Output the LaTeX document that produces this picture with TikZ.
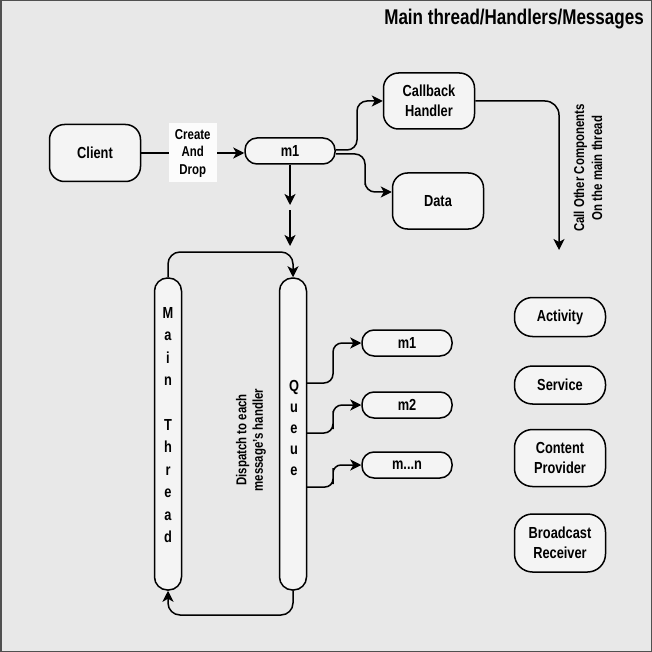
\documentclass[tikz,border=0pt]{standalone}
\usepackage{fontspec}
\setmainfont{Liberation Sans}[FakeStretch=0.8]
\usetikzlibrary{positioning, arrows.meta}

\definecolor{paper}{HTML}{E8E8E8}
\definecolor{boxfill}{HTML}{F4F4F4}
\definecolor{frame}{HTML}{505050}

\tikzset{
	box/.style={draw, line width=1.5pt, fill=boxfill, rounded corners=15pt, align=center,
		minimum width=91pt, inner sep=2pt, font=\bfseries\fontsize{16}{20}\selectfont},
	pill/.style={box, rounded corners=12pt, minimum height=26pt, minimum width=90pt},
	bar/.style={draw, line width=1.5pt, fill=boxfill, rounded corners=13pt,
		minimum width=27pt, minimum height=312pt, inner sep=0pt},
	letters/.style={align=center, inner sep=0pt},
	link/.style={line width=1.5pt, ->},
	note/.style={align=center, inner sep=2pt, font=\bfseries\fontsize{14.3}{16.5}\selectfont},
}

\begin{document}
\begin{tikzpicture}[x=1pt, y=-1pt, >={Stealth[length=11pt, width=11pt, inset=3pt]}]
	\useasboundingbox (0,0) rectangle (652,652);
	\fill[paper] (0,0) rectangle (652,652);
	\draw[frame, line width=1.5pt] (0.75,0.75) rectangle (651.25,651.25);

	\node[anchor=east, inner sep=0pt, font=\bfseries\fontsize{21.3}{24}\selectfont] (title) at (644,19) {Main thread/Handlers/Messages};

	% sender side
	\node[box, minimum height=57pt] (client) at (95,153) {Client};
	\node[pill] (m1) at (290,151) {m1};
	\node[box, minimum height=56pt] (callback) at (429,101) {Callback\\Handler};
	\node[box, minimum height=56pt] (data) at (438,201) {Data};

	\draw[link] (client) -- node[fill=white!70!boxfill, minimum width=48pt, minimum height=59pt, note, font=\bfseries\fontsize{14.3}{17.5}\selectfont] (drop) {Create\\And\\Drop} (client -| m1.west);
	\draw[link, rounded corners=10pt] ([yshift=1pt]m1.east) -| (357,125) |- (callback.west);
	\draw[link, rounded corners=10pt] ([yshift=-3pt]m1.east) -| (365,175) |- ([yshift=9pt]data.west);

	\coordinate (gap1) at (290,205);
	\coordinate (gap2) at (290,210);
	\coordinate (qin) at (290,246);
	\draw[link] (m1) -- (gap1);
	\draw[link] (gap2) -- (qin);

	% looper
	\node[bar] (main) at (168,434) {};
	\node[bar] (queue) at (293,434) {};
	\node[letters, font=\bfseries\fontsize{16}{22.4}\selectfont] (mainlabel) at (168,425) {M\\a\\i\\n\\\mbox{}\\T\\h\\r\\e\\a\\d};
	\node[letters, font=\bfseries\fontsize{16}{20.8}\selectfont] (queuelabel) at (294,428) {Q\\u\\e\\u\\e};
	\node[note, rotate=90] (dispatch) at (251,440) {Dispatch to each\\message's handler};

	\coordinate (looptop) at (230,252);
	\coordinate (loopbot) at (230,615);
	\draw[link, rounded corners=12pt] (main.north) |- (looptop) -| (queue.north);
	\draw[link, rounded corners=12pt] (queue.south) |- (loopbot) -| (main.south);

	\node[pill] (msg1) at (407,343) {m1};
	\node[pill] (msg2) at (407,405) {m2};
	\node[pill] (msgn) at (407,465) {m...n};

	\coordinate (qa) at (306.5,383);
	\coordinate (qb) at (306.5,433);
	\coordinate (qc) at (306.5,487);
	\draw[link, rounded corners=9pt] (qa) -| (333,360) |- (msg1.west);
	\draw[link, rounded corners=9pt] (qb) -| (333,420) |- (msg2.west);
	\draw[link, rounded corners=8pt] (qc) -| (333,476) |- (msgn.west);

	% other components
	\coordinate (calltip) at (559,250);
	\draw[link, rounded corners=14pt] (callback.east) -| (calltip);
	\node[note, rotate=90, font=\bfseries\fontsize{14.3}{18}\selectfont] (calllabel) at (588,168) {Call Other Components\\On the main thread};

	\node[box, rounded corners=18pt, minimum height=39pt] (activity) at (560,317) {Activity};
	\node[box, rounded corners=18pt, minimum height=38pt] (service) at (560,385) {Service};
	\node[box, rounded corners=18pt, minimum height=57pt] (provider) at (560,458) {Content\\Provider};
	\node[box, rounded corners=18pt, minimum height=58pt] (receiver) at (560,543) {Broadcast\\Receiver};

\end{tikzpicture}
\end{document}
